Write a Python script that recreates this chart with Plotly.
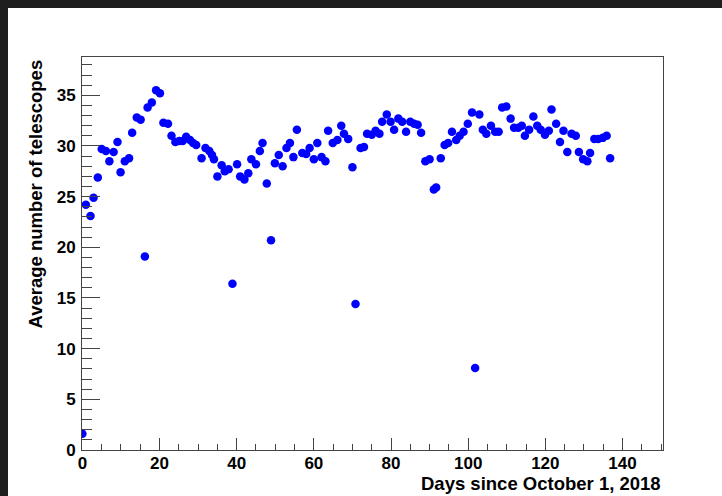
import plotly.graph_objects as go

# Daily averages of the number of participating telescopes
days = [
    0.0, 0.9, 2.1, 2.9, 4.0, 5.0, 6.1, 7.0, 8.1, 9.1, 9.9, 11.0, 12.1, 12.9,
    14.1, 15.1, 16.2, 16.9, 18.0, 19.1, 20.1, 21.0, 22.2, 23.1, 24.1, 25.1,
    26.0, 26.9, 27.9, 28.7, 29.5, 30.9, 31.9, 32.9, 33.6, 34.1, 35.0, 36.1,
    36.9, 37.9, 38.9, 40.1, 40.9, 42.0, 43.0, 43.8, 45.0, 46.0, 46.7, 47.8,
    48.9, 49.9, 50.9, 51.9, 52.9, 53.8, 54.7, 55.6, 57.0, 58.0, 58.9, 60.0,
    60.9, 62.0, 63.0, 63.7, 64.9, 66.1, 67.1, 67.8, 68.9, 70.0, 70.8, 72.1,
    73.0, 73.8, 75.0, 76.0, 77.0, 77.7, 78.9, 79.9, 80.8, 81.9, 82.9, 83.9,
    85.0, 86.0, 86.9, 87.8, 88.9, 90.0, 91.1, 91.7, 92.9, 93.9, 94.8, 95.8,
    96.9, 97.8, 98.8, 99.9, 101.0, 101.8, 102.9, 103.8, 104.7, 105.9, 107.0,
    107.9, 108.8, 109.9, 111.0, 111.9, 113.0, 113.9, 114.7, 115.8, 116.9,
    117.9, 118.8, 119.9, 120.9, 121.6, 122.8, 123.8, 124.7, 125.7, 126.8,
    127.9, 128.7, 129.8, 130.9, 131.6, 132.7, 133.7, 134.9, 135.9, 136.8,
]
avg_telescopes = [
    1.6, 24.2, 23.1, 24.9, 26.9, 29.7, 29.5, 28.5, 29.4, 30.4, 27.4, 28.5, 28.8, 31.3,
    32.8, 32.6, 19.1, 33.8, 34.3, 35.5, 35.2, 32.3, 32.2, 31.0, 30.4, 30.5,
    30.5, 30.9, 30.6, 30.3, 30.1, 28.8, 29.8, 29.5, 29.1, 28.7, 27.0, 28.1,
    27.5, 27.7, 16.4, 28.2, 27.0, 26.7, 27.3, 28.7, 28.2, 29.5, 30.3, 26.3,
    20.7, 28.3, 29.1, 28.0, 29.8, 30.3, 28.9, 31.6, 29.3, 29.2, 29.8, 28.7,
    30.3, 28.9, 28.5, 31.5, 30.3, 30.6, 32.0, 31.2, 30.7, 27.9, 14.4, 29.8,
    29.9, 31.2, 31.1, 31.5, 31.2, 32.4, 33.1, 32.4, 31.6, 32.7, 32.4, 31.4,
    32.4, 32.2, 32.1, 31.3, 28.5, 28.7, 25.7, 25.9, 28.8, 30.1, 30.3, 31.4,
    30.6, 31.0, 31.4, 32.2, 33.3, 8.1, 33.1, 31.6, 31.2, 32.0, 31.4,
    31.4, 33.8, 33.9, 32.7, 31.8, 31.8, 32.0, 31.0, 31.6, 32.9,
    32.0, 31.6, 31.1, 31.5, 33.6, 32.2, 30.4, 31.5, 29.4, 31.2,
    31.0, 29.4, 28.7, 28.5, 29.3, 30.7, 30.7, 30.8, 31.0, 28.8,
]

x_title = "Days since October 1, 2018"
y_title = "Average number of telescopes"

W, H = 722, 496
ML, MR, MT, MB = 82, 59, 57, 46
PW, PH = W - ML - MR, H - MT - MB

font_family = "Liberation Sans, Arial, sans-serif"
tick_font = dict(family=font_family, size=17, color="black", weight="bold")

fig = go.Figure(
    go.Scatter(
        x=days,
        y=avg_telescopes,
        mode="markers",
        marker=dict(color="#0000ff", size=8.5, line=dict(width=0)),
        hoverinfo="x+y",
    )
)

axis_common = dict(
    showgrid=False,
    zeroline=False,
    showline=True,
    linecolor="#444444",
    linewidth=1,
    mirror=True,
    ticks="inside",
    tickcolor="#444444",
    tickwidth=1,
    tickfont=tick_font,
)

fig.update_xaxes(
    range=[-0.1, 150.5],
    tick0=0,
    dtick=20,
    ticklen=12,
    ticklabelstandoff=-2,
    minor=dict(ticks="inside", ticklen=6, dtick=5, tick0=0, tickcolor="#444444"),
    **axis_common,
)
fig.update_yaxes(
    range=[0, 38.78],
    tick0=0,
    dtick=5,
    ticklen=18,
    ticklabelstandoff=2,
    minor=dict(ticks="inside", ticklen=10, dtick=1, tick0=0, tickcolor="#444444"),
    **axis_common,
)


def px_x(p):
    return (p - ML) / PW


def px_y(p):
    return (H - MB - p) / PH


# dark page edge along the top and left sides
edge = "#1e1e1e"
shapes = [
    dict(type="rect", xref="paper", yref="paper", layer="above",
         x0=px_x(0), x1=px_x(W), y0=px_y(8), y1=px_y(0),
         fillcolor=edge, line=dict(width=0)),
    dict(type="rect", xref="paper", yref="paper", layer="above",
         x0=px_x(0), x1=px_x(8), y0=px_y(H), y1=px_y(0),
         fillcolor=edge, line=dict(width=0)),
]

title_font = dict(family=font_family, size=18.5, color="black", weight="bold")
annotations = [
    dict(text=x_title, xref="paper", yref="paper", x=1.0, y=px_y(483),
         xanchor="right", yanchor="middle", showarrow=False, font=title_font),
    dict(text=y_title, xref="paper", yref="paper", x=px_x(35), y=px_y(58),
         xanchor="center", yanchor="top", textangle=-90, showarrow=False,
         font=title_font),
]

fig.update_layout(
    width=W,
    height=H,
    margin=dict(l=ML, r=MR, t=MT, b=MB, pad=0),
    paper_bgcolor="white",
    plot_bgcolor="white",
    showlegend=False,
    shapes=shapes,
    annotations=annotations,
)

fig.write_html("out.html")
